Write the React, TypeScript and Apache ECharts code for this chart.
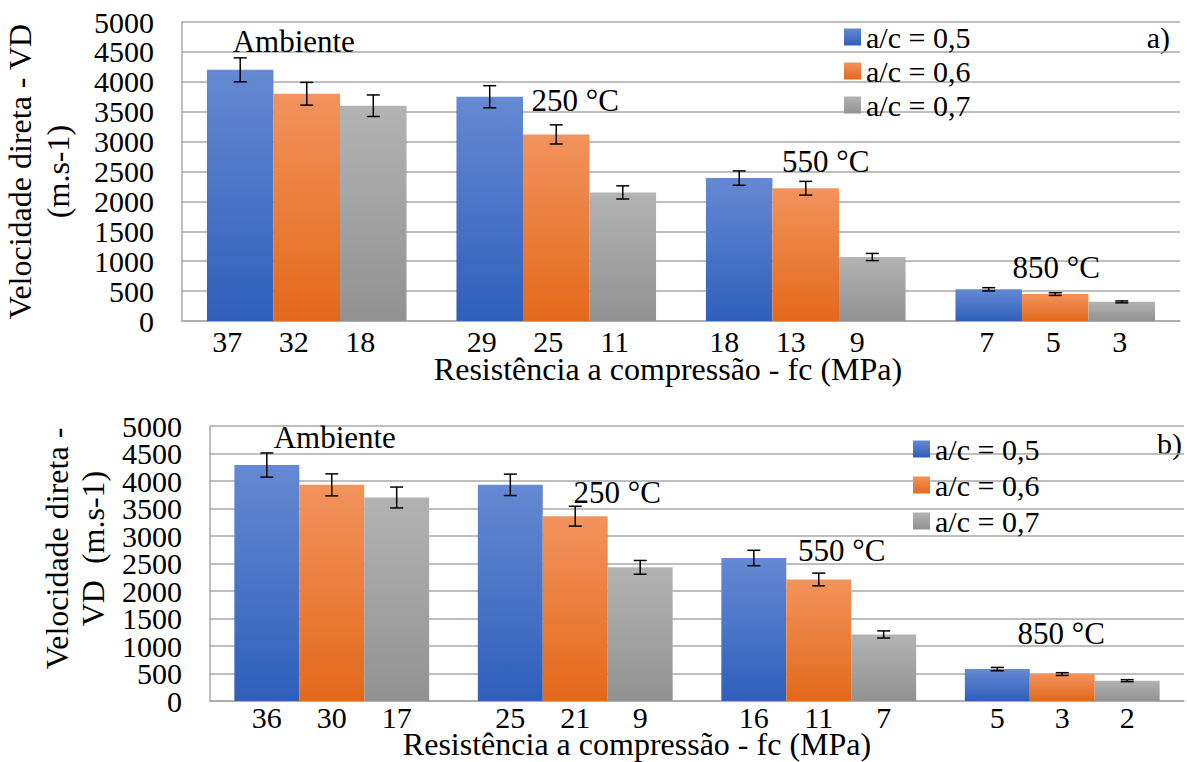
import React, { useEffect, useRef } from "react";
import * as echarts from "echarts";

const FONT = "Liberation Serif";

// ---------- data ----------
const categories = ["Ambiente", "250 °C", "550 °C", "850 °C"];
const seriesNames = ["a/c = 0,5", "a/c = 0,6", "a/c = 0,7"];
const yTicks = [0, 500, 1000, 1500, 2000, 2500, 3000, 3500, 4000, 4500, 5000];

// Panel a) — direct velocity (m/s)
const vdA05 = [4200, 3750, 2390, 530];
const vdA06 = [3800, 3120, 2220, 450];
const vdA07 = [3600, 2150, 1070, 320];
const errA05 = [200, 185, 120, 27];
const errA06 = [190, 160, 115, 22];
const errA07 = [180, 110, 60, 16];
const fcA05 = [37, 29, 18, 7];
const fcA06 = [32, 25, 13, 5];
const fcA07 = [18, 11, 9, 3];
const annotA = [4666, 3680, 2660, 900];

// Panel b)
const vdB05 = [4290, 3930, 2600, 580];
const vdB06 = [3930, 3360, 2210, 490];
const vdB07 = [3700, 2430, 1210, 370];
const errB05 = [220, 195, 140, 30];
const errB06 = [200, 180, 115, 25];
const errB07 = [190, 125, 65, 18];
const fcB05 = [36, 25, 16, 5];
const fcB06 = [30, 21, 11, 3];
const fcB07 = [17, 9, 7, 2];
const annotB = [4800, 3800, 2745, 1236];

// ---------- styles ----------
const palette = [
  ["#6589d2", "#2f5fbb"],
  ["#f2935d", "#e3691a"],
  ["#b3b3b3", "#929292"],
];
const GRID_COLOR = "#a9a9a9";
const annDxA = [-13, 19, 20, 1];
const annDxB = [3, 42, 23, -1];
const labelShiftA = [-13, -8, -15, -2];
const labelShiftB = [0, 0, 0, 0];

function grad(top: string, bottom: string) {
  return new echarts.graphic.LinearGradient(0, 0, 0, 1, [
    { offset: 0, color: top },
    { offset: 1, color: bottom },
  ]);
}

function panelSeries(
  g: number,
  values: number[][],
  errs: number[][],
  fcs: number[][],
  annY: number[],
  annDx: number[],
  labelShift: number[],
  labelDist: number
) {
  const out: any[] = [];
  values.forEach((vals, s) => {
    out.push({
      type: "bar",
      name: seriesNames[s],
      xAxisIndex: g,
      yAxisIndex: g,
      barGap: "0%",
      barCategoryGap: "20%",
      itemStyle: { color: grad(palette[s][0], palette[s][1]) },
      data: vals.map((v, i) => ({
        value: v,
        label: { offset: [labelShift[i], 0] },
      })),
      label: {
        show: true,
        position: "bottom",
        distance: labelDist,
        formatter: (p: any) => String(fcs[s][p.dataIndex]),
        fontSize: 30,
        fontFamily: FONT,
        color: "#000",
      },
      z: 2,
    });
  });
  values.forEach((vals, s) => {
    out.push({
      type: "custom",
      name: "err" + g + "_" + s,
      xAxisIndex: g,
      yAxisIndex: g,
      z: 5,
      silent: true,
      encode: { x: 0, y: 1 },
      data: vals.map((v, i) => [i, v, errs[s][i]]),
      renderItem: (params: any, api: any) => {
        const i = api.value(0);
        const v = api.value(1);
        const e = api.value(2);
        const bw = api.size([1, 0])[0];
        const barW = (bw * 0.8) / 3;
        const x = api.coord([i, v])[0] + (s - 1) * barW;
        const yT = api.coord([i, v + e])[1];
        const yB = api.coord([i, v - e])[1];
        const cap = 6.5;
        const st = { stroke: "#000", lineWidth: 1.5 };
        return {
          type: "group",
          children: [
            { type: "line", shape: { x1: x, y1: yT, x2: x, y2: yB }, style: st },
            { type: "line", shape: { x1: x - cap, y1: yT, x2: x + cap, y2: yT }, style: st },
            { type: "line", shape: { x1: x - cap, y1: yB, x2: x + cap, y2: yB }, style: st },
          ],
        };
      },
    });
  });
  out.push({
    type: "custom",
    name: "annot" + g,
    xAxisIndex: g,
    yAxisIndex: g,
    z: 6,
    silent: true,
    encode: { x: 0, y: 1 },
    data: annY.map((y, i) => [i, y]),
    renderItem: (params: any, api: any) => {
      const pt = api.coord([api.value(0), api.value(1)]);
      return {
        type: "text",
        x: pt[0] + annDx[params.dataIndex],
        y: pt[1],
        style: {
          text: categories[params.dataIndex],
          fill: "#000",
          fontSize: 31,
          fontFamily: FONT,
          align: "center",
          verticalAlign: "middle",
        },
      };
    },
  });
  return out;
}

function xAxisDef(g: number, nameGap: number, shiftLeft: number) {
  return {
    gridIndex: g,
    type: "category",
    data: categories,
    axisLabel: { show: false },
    axisTick: { show: false },
    axisLine: { lineStyle: { color: GRID_COLOR, width: 1.5 } },
    name: "Resistência a compressão - fc (MPa)",
    nameLocation: "middle",
    nameGap,
    nameTextStyle: {
      fontSize: 32,
      fontFamily: FONT,
      color: "#000",
      padding: [0, shiftLeft * 2, 0, 0],
    },
  };
}

const labelBase = {
  fontSize: 30,
  fontFamily: FONT,
  color: "#000",
  margin: 28,
  hideOverlap: false,
};

function yAxisDef(
  g: number,
  name: string,
  nameGap: number,
  lineHeight: number,
  shiftUp: number,
  filter: (v: number) => boolean
) {
  return {
    gridIndex: g,
    type: "value",
    position: "left",
    offset: 0,
    min: yTicks[0],
    max: yTicks[yTicks.length - 1],
    interval: yTicks[1] - yTicks[0],
    axisLine: { show: true, lineStyle: { color: GRID_COLOR, width: 1.5 } },
    axisTick: { show: false },
    splitLine: { lineStyle: { color: GRID_COLOR, width: 1.5 } },
    axisLabel: {
      ...labelBase,
      showMinLabel: true,
      showMaxLabel: true,
      formatter: (v: number) => (filter(v) ? String(v) : ""),
    },
    name,
    nameLocation: "middle",
    nameRotate: 90,
    nameGap,
    nameTextStyle: {
      fontSize: 32,
      lineHeight,
      fontFamily: FONT,
      color: "#000",
      padding: [0, 0, 0, shiftUp * 2],
    },
  };
}

// secondary label-only axis (panel b has tightly packed tick labels)
function yAxisLabelsOnly(g: number, filter: (v: number) => boolean) {
  return {
    gridIndex: g,
    type: "value",
    position: "left",
    offset: 0,
    min: yTicks[0],
    max: yTicks[yTicks.length - 1],
    interval: yTicks[1] - yTicks[0],
    axisLine: { show: false },
    axisTick: { show: false },
    splitLine: { show: false },
    axisLabel: {
      ...labelBase,
      showMinLabel: false,
      showMaxLabel: false,
      formatter: (v: number) => (filter(v) ? String(v) : ""),
    },
  };
}

export default function App() {
  const ref = useRef<HTMLDivElement>(null);
  useEffect(() => {
    if (!ref.current) return;
    const chart = echarts.init(ref.current, undefined, { renderer: "svg" });
    const all = (_v: number) => true;
    const thousands = (v: number) => v % 1000 === 0;
    const halves = (v: number) => v % 1000 !== 0;
    const option: any = {
      animation: false,
      textStyle: { fontFamily: FONT },
      grid: [
        { left: 182, top: 22, right: 7, bottom: 441, outerBoundsMode: "none", containLabel: false },
        { left: 210, top: 426, right: 3, bottom: 61, outerBoundsMode: "none", containLabel: false },
      ],
      xAxis: [xAxisDef(0, 32, 13), xAxisDef(1, 27, 60)],
      yAxis: [
        yAxisDef(0, "Velocidade direta - VD\n(m.s-1)", 105, 38, 0, all),
        yAxisDef(1, "Velocidade direta -\nVD  (m.s-1)", 96, 36, 15, thousands),
        yAxisLabelsOnly(1, halves),
      ],
      legend: [
        {
          data: seriesNames,
          orient: "vertical",
          left: 844,
          top: 20,
          padding: 0,
          itemWidth: 17,
          itemHeight: 17,
          itemGap: 0,
          icon: "rect",
          selectedMode: false,
          textStyle: { fontSize: 30, fontFamily: FONT, color: "#000", lineHeight: 34 },
        },
        {
          data: seriesNames,
          orient: "vertical",
          left: 913,
          top: 431,
          padding: 0,
          itemWidth: 17,
          itemHeight: 17,
          itemGap: 0,
          icon: "rect",
          selectedMode: false,
          textStyle: { fontSize: 30, fontFamily: FONT, color: "#000", lineHeight: 36 },
        },
      ],
      graphic: [
        {
          type: "text",
          right: 17,
          top: 22,
          style: { text: "a)", fontSize: 30, fontFamily: FONT, fill: "#000" },
        },
        {
          type: "text",
          right: 5,
          top: 428,
          style: { text: "b)", fontSize: 30, fontFamily: FONT, fill: "#000" },
        },
      ],
      series: [
        ...panelSeries(
          0,
          [vdA05, vdA06, vdA07],
          [errA05, errA06, errA07],
          [fcA05, fcA06, fcA07],
          annotA,
          annDxA,
          labelShiftA,
          5
        ),
        ...panelSeries(
          1,
          [vdB05, vdB06, vdB07],
          [errB05, errB06, errB07],
          [fcB05, fcB06, fcB07],
          annotB,
          annDxB,
          labelShiftB,
          1
        ),
      ],
    };
    chart.setOption(option);
    return () => chart.dispose();
  }, []);
  return (
    <div
      ref={ref}
      style={{ position: "fixed", left: 0, top: 0, width: 1187, height: 762, background: "#fff" }}
    />
  );
}
